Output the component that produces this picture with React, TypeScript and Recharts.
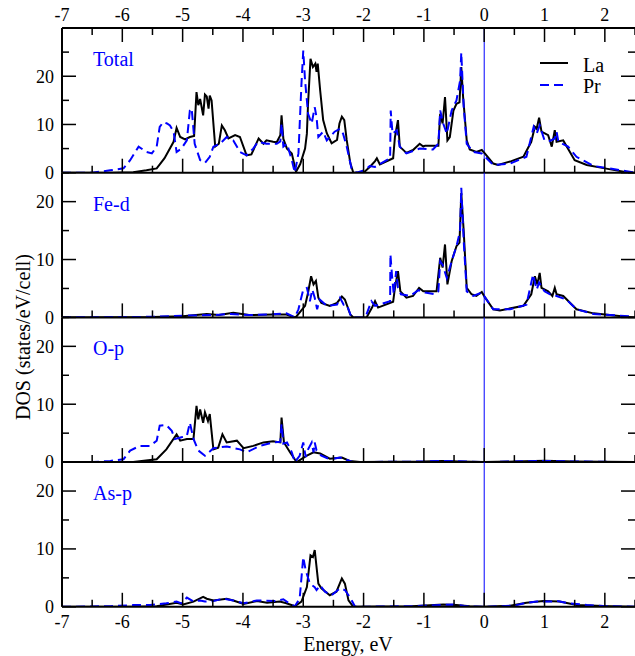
import React from 'react';
import { LineChart, Line, XAxis, YAxis, ReferenceLine } from 'recharts';

type Pt = [number, number];

// Energy (eV), DOS (states/eV/cell)
const totalLa: Pt[] = [[-7,0],[-6.2,0],[-5.82,0.1],[-5.6,0.5],[-5.43,0.9],[-5.3,3],[-5.15,6.4],[-5.1,9.3],[-5.04,7.4],[-4.96,6.9],[-4.88,7.4],[-4.81,7.6],[-4.77,16.7],[-4.74,14],[-4.71,15.3],[-4.66,11.9],[-4.63,16.2],[-4.6,15.8],[-4.57,13.3],[-4.55,16],[-4.52,15],[-4.46,5.4],[-4.4,6],[-4.35,9.8],[-4.3,8.8],[-4.24,7.1],[-4.13,7.8],[-4.05,7.4],[-3.94,3.6],[-3.86,3.8],[-3.74,7.1],[-3.66,6],[-3.61,6.7],[-3.5,6.4],[-3.44,6.3],[-3.38,7.8],[-3.36,11.9],[-3.33,7],[-3.27,5],[-3.19,4],[-3.12,0.2],[-3.05,1.8],[-2.97,5],[-2.94,8.1],[-2.92,14.4],[-2.88,23.6],[-2.84,21.9],[-2.8,22.6],[-2.78,20.9],[-2.76,22.6],[-2.72,17.1],[-2.67,10.9],[-2.61,8.2],[-2.53,6.1],[-2.44,6.8],[-2.4,10.2],[-2.36,11.6],[-2.32,10.9],[-2.28,6.8],[-2.22,2],[-2.17,0],[-2.0,0],[-1.89,1.3],[-1.81,2.4],[-1.78,3],[-1.73,1.7],[-1.51,3],[-1.48,7.4],[-1.43,10.9],[-1.4,5.4],[-1.29,4.1],[-1.18,4.7],[-1.07,6],[-1.01,5.4],[-0.98,5.6],[-0.76,5.6],[-0.73,12.2],[-0.69,10.2],[-0.65,15.7],[-0.61,6.7],[-0.57,7.4],[-0.51,12.9],[-0.46,14.3],[-0.41,14.6],[-0.38,21.9],[-0.35,15.7],[-0.29,6.7],[-0.24,4.8],[-0.13,4.3],[-0.04,4.7],[0.01,4.0],[0.15,1.9],[0.23,1.6],[0.45,2.4],[0.65,3.3],[0.78,6.4],[0.84,9.5],[0.87,9.1],[0.91,11.4],[0.95,8.5],[1.06,7.8],[1.12,5.4],[1.17,8.8],[1.2,6.4],[1.31,6.7],[1.5,2.6],[1.7,1.6],[2.0,0.9],[2.41,0],[2.5,0]];
const totalPr: Pt[] = [[-7,0],[-6.5,0],[-6.2,0.5],[-5.98,0.9],[-5.87,2.6],[-5.73,5.4],[-5.6,4.3],[-5.51,4],[-5.43,5.4],[-5.38,9.5],[-5.32,10.5],[-5.26,10.2],[-5.21,9.8],[-5.15,8.5],[-5.1,4.3],[-5.02,5],[-4.93,6.7],[-4.88,12.9],[-4.85,13.3],[-4.8,6],[-4.71,2.6],[-4.63,2],[-4.55,3.3],[-4.49,5.4],[-4.38,6],[-4.27,7.4],[-4.16,6.7],[-4.05,4.3],[-3.94,3.6],[-3.83,5],[-3.75,6.4],[-3.61,6],[-3.44,6],[-3.38,6.5],[-3.36,10.2],[-3.33,5.4],[-3.27,6],[-3.19,2.6],[-3.14,0],[-3.08,4],[-3.03,18.4],[-3.0,25.3],[-2.97,19.1],[-2.92,12.2],[-2.86,10.2],[-2.81,13.6],[-2.78,11.5],[-2.75,7.4],[-2.67,8.5],[-2.61,6.7],[-2.48,8.5],[-2.39,9.1],[-2.34,8.1],[-2.28,5.4],[-2.2,0.9],[-2.12,0],[-1.98,0.5],[-1.9,1.4],[-1.81,1.2],[-1.56,3],[-1.55,12.9],[-1.52,8.1],[-1.45,8.8],[-1.4,5.4],[-1.29,4],[-1.07,5],[-0.85,4.8],[-0.76,6],[-0.73,12.9],[-0.68,10.2],[-0.62,8.1],[-0.54,12.9],[-0.46,15],[-0.4,19.1],[-0.38,24.9],[-0.34,13.6],[-0.29,6],[-0.18,4.3],[-0.04,4],[0.15,1.6],[0.43,1.9],[0.7,3.3],[0.82,9.5],[0.87,8.1],[0.92,9.8],[1.0,6.7],[1.09,6.6],[1.17,7.1],[1.2,8.5],[1.23,6.4],[1.39,5.4],[1.53,3.3],[1.81,1.4],[2.08,0.9],[2.41,0.2],[2.5,0]];

const fedLa: Pt[] = [[-7,0],[-5.5,0.05],[-5.0,0.2],[-4.6,0.6],[-4.4,0.4],[-4.16,0.8],[-3.9,0.4],[-3.5,0.5],[-3.28,0.5],[-3.14,0],[-3.11,0.2],[-2.97,2],[-2.92,4.3],[-2.87,7.1],[-2.83,5.7],[-2.79,6.3],[-2.75,3.4],[-2.7,2.5],[-2.56,2],[-2.44,2.5],[-2.36,3.6],[-2.31,3.1],[-2.22,0.5],[-2.17,0],[-1.95,0],[-1.86,1.7],[-1.81,2.8],[-1.76,1.7],[-1.51,2.7],[-1.48,5.1],[-1.43,8],[-1.39,4.5],[-1.29,3.4],[-1.18,3.7],[-1.08,5.1],[-1.01,4.5],[-0.79,4.5],[-0.73,10.3],[-0.69,8.6],[-0.65,12.6],[-0.61,5.7],[-0.54,9.7],[-0.46,12.3],[-0.41,12.9],[-0.38,21.5],[-0.34,14.9],[-0.29,5.1],[-0.21,4],[-0.13,3.7],[-0.04,4.4],[0.01,3.5],[0.15,1.4],[0.26,1.2],[0.65,2],[0.78,4],[0.84,7.1],[0.88,5.7],[0.92,7.7],[0.95,5.1],[1.06,4.5],[1.13,3.7],[1.17,5.1],[1.2,4],[1.31,3.7],[1.53,1.4],[1.81,0.7],[2.08,0.4],[2.47,0],[2.5,0]];
const fedPr: Pt[] = [[-7,0],[-5.5,0.1],[-5.0,0.3],[-4.5,0.4],[-4.2,0.6],[-3.9,0.4],[-3.6,0.5],[-3.28,0.7],[-3.14,0],[-3.08,1.4],[-3.0,4.8],[-2.94,5.1],[-2.89,2.8],[-2.85,4.8],[-2.81,3.4],[-2.77,1.4],[-2.73,3.1],[-2.61,2],[-2.44,2.2],[-2.39,3.4],[-2.33,2.2],[-2.28,2.2],[-2.2,0],[-1.97,0],[-1.87,2.8],[-1.81,2],[-1.56,2.8],[-1.555,10.9],[-1.53,7.4],[-1.5,4],[-1.46,8],[-1.43,5.1],[-1.38,4],[-1.23,3.7],[-1.09,4.7],[-0.98,4.3],[-0.82,4],[-0.76,4.5],[-0.73,9.7],[-0.69,9.1],[-0.62,6.8],[-0.54,9.7],[-0.46,12.3],[-0.4,14.9],[-0.38,22.4],[-0.34,13.2],[-0.29,4.5],[-0.18,3.7],[-0.04,4.3],[0.15,1.4],[0.43,1.4],[0.7,2.2],[0.81,7.4],[0.87,4.8],[0.91,6],[1.0,4.5],[1.09,4],[1.2,3.7],[1.36,3.1],[1.53,1.4],[1.81,0.6],[2.41,0.2],[2.5,0]];

const opLa: Pt[] = [[-7,0],[-5.82,0],[-5.43,0.5],[-5.27,2.2],[-5.1,4.8],[-5.04,3.7],[-4.93,4],[-4.82,4],[-4.77,9.7],[-4.74,7.4],[-4.71,9.1],[-4.66,6.8],[-4.63,8.6],[-4.58,7.1],[-4.55,8.3],[-4.49,2.2],[-4.41,2.5],[-4.34,4.8],[-4.27,3.4],[-4.1,3.7],[-3.99,2.4],[-3.83,2.8],[-3.66,3.4],[-3.5,3.6],[-3.38,3.4],[-3.36,7.7],[-3.32,3.4],[-3.22,1.7],[-3.11,0],[-2.94,1.1],[-2.83,1.7],[-2.72,1.5],[-2.56,0.6],[-2.36,0.8],[-2.23,0.2],[-2.06,0],[-1.0,0.1],[-0.7,0.2],[-0.4,0.1],[0,0],[0.5,0.1],[1.0,0.25],[1.5,0.1],[2.5,0]];
const opPr: Pt[] = [[-7,0],[-6.5,0],[-6.2,0.2],[-5.98,0.5],[-5.87,2],[-5.71,2.8],[-5.54,2.8],[-5.43,3.7],[-5.38,6.3],[-5.27,6.4],[-5.18,5.4],[-5.13,4],[-5.02,4.3],[-4.93,4.5],[-4.88,6.8],[-4.82,4],[-4.74,2],[-4.63,1.1],[-4.49,2.4],[-4.27,2.7],[-4.05,2.2],[-3.94,1.7],[-3.72,2.8],[-3.5,3.4],[-3.38,3.5],[-3.36,6.6],[-3.33,3.2],[-3.27,3.4],[-3.19,1.7],[-3.14,0],[-3.06,1.1],[-3.0,3.4],[-2.96,0.9],[-2.92,2.2],[-2.86,3.4],[-2.83,1.7],[-2.81,3.4],[-2.78,2],[-2.7,1.1],[-2.56,0.5],[-2.39,0.8],[-2.23,0.2],[-2.17,0],[-1.0,0.1],[-0.7,0.2],[-0.3,0.1],[0,0],[0.5,0.1],[1.0,0.2],[1.5,0.1],[2.5,0]];

const aspLa: Pt[] = [[-7,0],[-5.82,0],[-5.43,0.1],[-5.1,0.7],[-4.99,0.4],[-4.82,0.9],[-4.66,1.7],[-4.6,1.4],[-4.49,1.1],[-4.27,1.4],[-4.16,1.1],[-3.99,0.5],[-3.77,1],[-3.6,0.7],[-3.39,0.9],[-3.28,0.6],[-3.14,0.1],[-3.03,0.9],[-2.94,3.4],[-2.88,8.9],[-2.84,8.6],[-2.81,9.8],[-2.75,4],[-2.7,3.2],[-2.56,2],[-2.45,2.6],[-2.36,4.9],[-2.31,4],[-2.25,1.1],[-2.17,0],[-1.2,0.1],[-0.68,0.4],[-0.46,0.3],[-0.24,0.1],[0,0],[0.43,0.2],[0.7,0.7],[0.98,1],[1.25,0.9],[1.53,0.3],[2.08,0.1],[2.5,0]];
const aspPr: Pt[] = [[-7,0],[-6.2,0.1],[-5.82,0.3],[-5.54,0.3],[-5.27,0.6],[-5.1,0.9],[-5.02,0.6],[-4.93,1.6],[-4.82,0.9],[-4.71,1.1],[-4.63,0.9],[-4.49,1],[-4.33,1.4],[-4.16,1.1],[-3.99,0.6],[-3.77,1.1],[-3.44,1],[-3.33,1.3],[-3.22,0.5],[-3.14,0.1],[-3.06,1.4],[-3.0,8.6],[-2.96,6.3],[-2.89,4],[-2.81,3.4],[-2.78,2.9],[-2.72,3.7],[-2.64,2.6],[-2.53,2],[-2.39,3.2],[-2.31,2.9],[-2.23,1.7],[-2.14,0],[-1.2,0.1],[-0.73,0.3],[-0.51,0.4],[-0.3,0.1],[0,0],[0.5,0.2],[0.7,0.7],[0.87,0.9],[1.09,0.9],[1.2,1],[1.42,0.6],[1.7,0.3],[2.08,0.1],[2.5,0]];

const panelNames = ['Total', 'Fe-d', 'O-p', 'As-p'];
const seriesNames = ['La', 'Pr'];
const panelLa = [totalLa, fedLa, opLa, aspLa];
const panelPr = [totalPr, fedPr, opPr, aspPr];
const yMaxes = [30, 25, 25, 25];
const xTicks = [-7, -6.5, -6, -5.5, -5, -4.5, -4, -3.5, -3, -2.5, -2, -1.5, -1, -0.5, 0, 0.5, 1, 1.5, 2, 2.5];
const yLabelTicks = [0, 10, 20];
const xTitle = 'Energy, eV';
const yTitle = 'DOS (states/eV/cell)';

const W = 635;
const H = 656;
const LEFT = 62;
const PLOT_TOP = 28;
const PANEL_H = 144.7;
const XAXIS_H = 20;
const FONT = '"Liberation Serif", "Times New Roman", serif';
const BLUE = '#0000ff';
const TICK_FS = 18;

const toRows = (pts: Pt[]) => pts.map(([e, v]) => ({ e, v }));

function Panel({ index }: { index: number }) {
  const top = PLOT_TOP + index * PANEL_H;
  const bottom = top + PANEL_H;
  const yMax = yMaxes[index];
  const yTicks: number[] = [];
  for (let v = 0; v <= yMax; v += 5) yTicks.push(v);

  const renderXTick = (p: any) => {
    const x = p.x;
    const v = p.payload.value;
    const major = Number.isInteger(v);
    const len = major ? 14 : 7;
    return (
      <g>
        <line x1={x} x2={x} y1={bottom} y2={bottom - len} stroke="#000" strokeWidth={1.5} />
        {index === 0 && <line x1={x} x2={x} y1={top} y2={top + len} stroke="#000" strokeWidth={1.5} />}
        {index === 0 && major && (
          <text x={x} y={20.5} textAnchor="middle" fontFamily={FONT} fontSize={TICK_FS} fill="#000">{String(v)}</text>
        )}
        {index === 3 && major && (
          <text x={x} y={bottom + 21.2} textAnchor="middle" fontFamily={FONT} fontSize={TICK_FS} fill="#000">{String(v)}</text>
        )}
      </g>
    );
  };

  const renderYTick = (p: any) => {
    const y = p.y;
    const v = p.payload.value;
    const major = v % 10 === 0;
    const len = major ? 14 : 7;
    return (
      <g>
        {v === yMax && index === 0 && <line x1={LEFT} x2={W} y1={y} y2={y} stroke="#000" strokeWidth={2} />}
        <line x1={LEFT} x2={LEFT + len} y1={y} y2={y} stroke="#000" strokeWidth={1.5} />
        <line x1={W} x2={W - len} y1={y} y2={y} stroke="#000" strokeWidth={1.5} />
        {yLabelTicks.includes(v) && (
          <text x={54} y={y + 6.3} textAnchor="end" fontFamily={FONT} fontSize={TICK_FS} fill="#000">{String(v)}</text>
        )}
      </g>
    );
  };

  return (
    <div style={{ position: 'absolute', left: 0, top: 0 }}>
      <LineChart width={W} height={H} margin={{ top, bottom: H - bottom - XAXIS_H, left: 0, right: 0 }}>
        <XAxis
          dataKey="e"
          type="number"
          domain={[-7, 2.5]}
          ticks={xTicks}
          interval={0}
          height={XAXIS_H}
          tickSize={0}
          tickMargin={0}
          tickLine={false}
          tick={renderXTick}
          axisLine={{ stroke: '#000', strokeWidth: 2 }}
          allowDataOverflow
        />
        <YAxis
          type="number"
          domain={[0, yMax]}
          ticks={yTicks}
          interval={0}
          width={LEFT}
          tickSize={0}
          tickMargin={0}
          tickLine={false}
          tick={renderYTick}
          axisLine={{ stroke: '#000', strokeWidth: 2 }}
          allowDataOverflow
        />
        <ReferenceLine x={0} stroke={BLUE} strokeWidth={1} />
        <Line
          data={toRows(panelLa[index])}
          dataKey="v"
          name={seriesNames[0]}
          type="linear"
          stroke="#000"
          strokeWidth={2}
          dot={false}
          activeDot={false}
          isAnimationActive={false}
        />
        <Line
          data={toRows(panelPr[index])}
          dataKey="v"
          name={seriesNames[1]}
          type="linear"
          stroke={BLUE}
          strokeWidth={2}
          strokeDasharray="9 5"
          dot={false}
          activeDot={false}
          isAnimationActive={false}
        />
      </LineChart>
    </div>
  );
}

export default function App() {
  const labelY = [66, 66 + PANEL_H, 66 + 2 * PANEL_H, 66 + 3 * PANEL_H];
  return (
    <div style={{ position: 'absolute', left: 0, top: 0, width: W, height: H, background: '#fff', overflow: 'hidden' }}>
      {[0, 1, 2, 3].map((i) => (
        <Panel key={i} index={i} />
      ))}
      <svg width={W} height={H} style={{ position: 'absolute', left: 0, top: 0, pointerEvents: 'none' }}>
        {panelNames.map((n, i) => (
          <text key={n} x={93} y={labelY[i]} fontFamily={FONT} fontSize={20} fill={BLUE}>{n}</text>
        ))}
        <line x1={540} x2={568} y1={63} y2={63} stroke="#000" strokeWidth={2} />
        <text x={583} y={71.5} fontFamily={FONT} fontSize={20} fill="#000">{seriesNames[0]}</text>
        <line x1={540} x2={568} y1={85} y2={85} stroke={BLUE} strokeWidth={2} strokeDasharray="9 5" />
        <text x={583} y={93} fontFamily={FONT} fontSize={20} fill="#000">{seriesNames[1]}</text>
        <text x={348} y={650.5} textAnchor="middle" fontFamily={FONT} fontSize={20} fill="#000">{xTitle}</text>
        <text x={30} y={337} textAnchor="middle" transform="rotate(-90 30 337)" fontFamily={FONT} fontSize={20} fill="#000">{yTitle}</text>
      </svg>
    </div>
  );
}
